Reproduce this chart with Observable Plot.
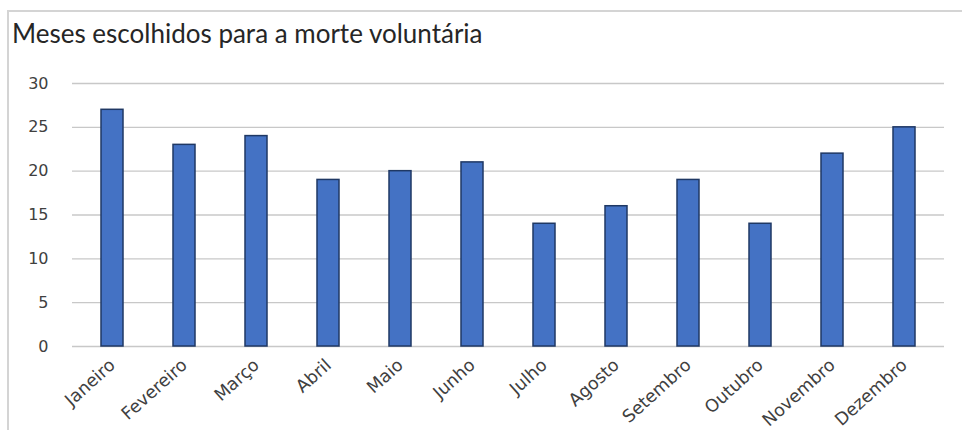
<!DOCTYPE html>
<html>
<head>
<meta charset="utf-8">
<script src="https://cdn.jsdelivr.net/npm/d3@7"></script>
<script src="https://cdn.jsdelivr.net/npm/@observablehq/plot@0.6"></script>
<style>
  html, body { margin: 0; padding: 0; background: #fff; width: 962px; height: 430px; overflow: hidden; }
  #frame { position: absolute; left: 7px; top: 10px; width: 980px; height: 440px; border-left: 2px solid #d4d4d4; border-top: 2px solid #d4d4d4; }
  #title { position: absolute; left: 12px; top: 17px; font-family: Lato, "Open Sans", sans-serif; font-size: 26px; color: #262626; white-space: nowrap; }
  #chart { position: absolute; left: 0; top: 60px; }
</style>
</head>
<body>
<div id="frame"></div>
<div id="title">Meses escolhidos para a morte voluntária</div>
<div id="chart"></div>
<script>
const months = ["Janeiro","Fevereiro","Março","Abril","Maio","Junho","Julho","Agosto","Setembro","Outubro","Novembro","Dezembro"];
const counts = [27, 23, 24, 19, 20, 21, 14, 16, 19, 14, 22, 25];
const yTicks = [0, 5, 10, 15, 20, 25, 30];

const data = months.map((m, i) => ({month: m, value: counts[i]}));

const chart = Plot.plot({
  width: 962,
  height: 370,
  marginTop: 23,
  marginBottom: 84,
  marginLeft: 72,
  marginRight: 18,
  style: {fontFamily: "'DejaVu Sans', sans-serif", background: "transparent"},
  x: {domain: months, paddingInner: 0.7, paddingOuter: 0.35},
  y: {domain: [0, 30]},
  marks: [
    Plot.gridY(yTicks, {stroke: "#c8c8c8", strokeOpacity: 1, strokeWidth: 1.3}),
    Plot.axisY(yTicks, {label: null, tickSize: 0, tickPadding: 24, fontSize: 16, fill: "#404040"}),
    Plot.axisX({label: null, tickSize: 0, tickRotate: -42, tickPadding: 16, fontSize: 17.5, fill: "#404040"}),
    Plot.barY(data, {x: "month", y: "value", fill: "#4472c4", stroke: "#1f3864", strokeWidth: 1.5})
  ]
});
document.getElementById("chart").appendChild(chart);
</script>
</body>
</html>
